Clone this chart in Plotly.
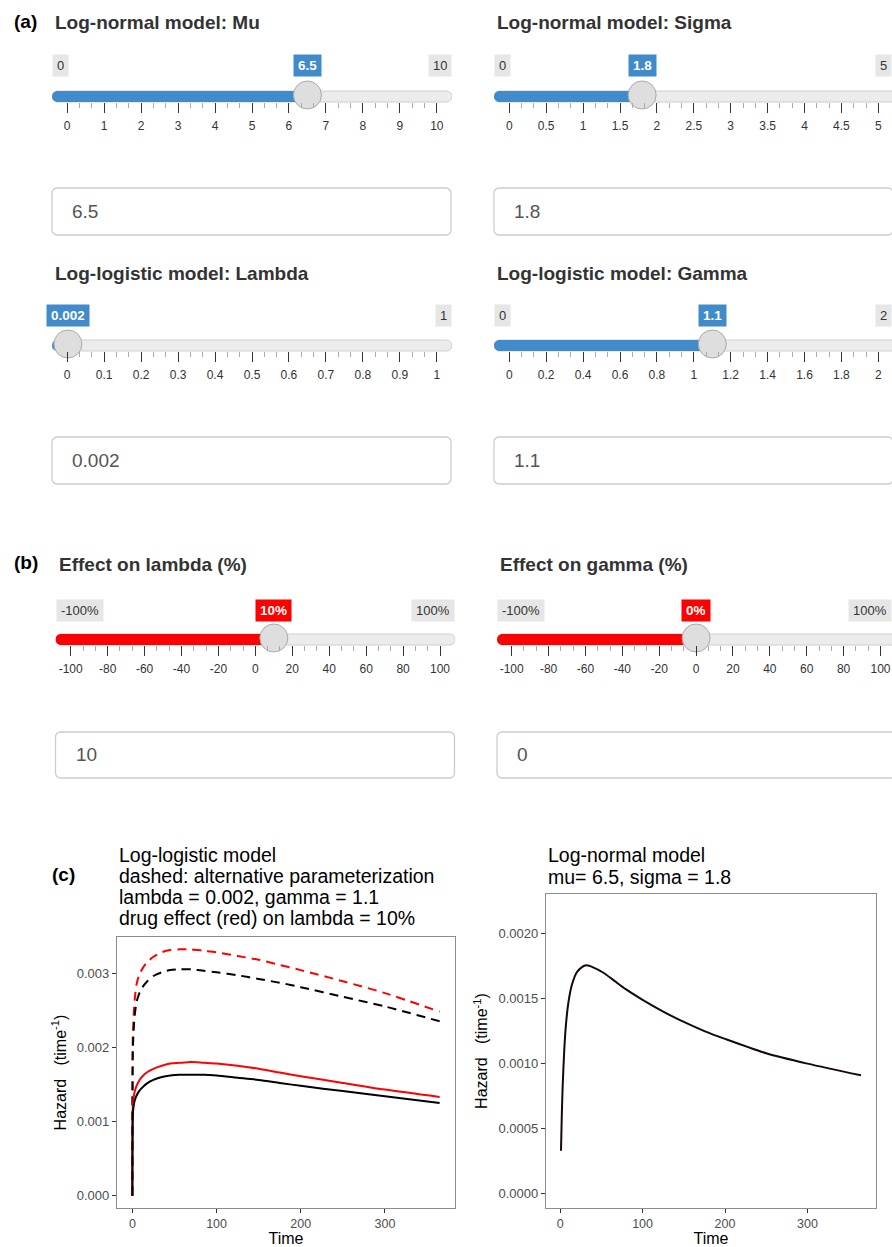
import plotly.graph_objects as go

W, H = 892, 1247

# ---------------- hazard curves ----------------
# log-logistic model (left panel): solid = standard, dashed = alternative parameterization
ll_time = [0, 0.5, 1, 2, 3, 5, 8, 12, 17, 25, 35, 45, 56, 70, 85, 100,
           125, 150, 175, 200, 250, 300, 365]
ll_hazard = [0, 0.00108, 0.00116, 0.00124, 0.00129, 0.00135, 0.00141, 0.00146,
             0.00151, 0.00156, 0.00160, 0.00162, 0.00163, 0.00163, 0.00163,
             0.00162, 0.00159, 0.00156, 0.00152, 0.00148, 0.00141, 0.00134, 0.00125]
ll_hazard_drug = [0, 0.00119, 0.00128, 0.00136, 0.00141, 0.00148, 0.00155, 0.00161,
                  0.00166, 0.00171, 0.00175, 0.00178, 0.00179, 0.00180, 0.00179,
                  0.00178, 0.00175, 0.00171, 0.00166, 0.00161, 0.00152, 0.00143, 0.00133]
ll_alt_hazard = [0, 0.00195, 0.00210, 0.00232, 0.00245, 0.00261, 0.00272, 0.00281,
                 0.00288, 0.00296, 0.00301, 0.00304, 0.00305, 0.00305, 0.00303,
                 0.00301, 0.00297, 0.00292, 0.00287, 0.00281, 0.00268, 0.00255, 0.00235]
ll_alt_hazard_drug = [0, 0.00210, 0.00228, 0.00252, 0.00267, 0.00285, 0.00297, 0.00306,
                      0.00314, 0.00322, 0.00328, 0.00331, 0.00332, 0.00332, 0.00330,
                      0.00328, 0.00323, 0.00318, 0.00311, 0.00304, 0.00289, 0.00273, 0.00248]

# log-normal model (right panel)
ln_time = [1, 2, 3, 5, 7, 10, 14, 20, 26, 32, 40, 52, 65, 80, 100, 125, 150,
           175, 200, 250, 300, 365]
ln_hazard = [0.00033, 0.00061, 0.00082, 0.00111, 0.00130, 0.00147, 0.00160, 0.00170,
             0.00174, 0.001755, 0.00174, 0.00170, 0.00164, 0.00157, 0.00149, 0.00140,
             0.00132, 0.00125, 0.00119, 0.00108, 0.00100, 0.00091]

# ---------------- slider inputs ----------------
slider_title = ["Log-normal model: Mu", "Log-normal model: Sigma",
                "Log-logistic model: Lambda", "Log-logistic model: Gamma",
                "Effect on lambda (%)", "Effect on gamma (%)"]
slider_min = [0, 0, 0, 0, -100, -100]
slider_max = [10, 5, 1, 2, 100, 100]
slider_value = [6.5, 1.8, 0.002, 1.1, 10, 0]
slider_unit = ["", "", "", "", "%", "%"]

mu_ticks = ["0", "1", "2", "3", "4", "5", "6", "7", "8", "9", "10"]
sigma_ticks = ["0", "0.5", "1", "1.5", "2", "2.5", "3", "3.5", "4", "4.5", "5"]
lambda_ticks = ["0", "0.1", "0.2", "0.3", "0.4", "0.5", "0.6", "0.7", "0.8", "0.9", "1"]
gamma_ticks = ["0", "0.2", "0.4", "0.6", "0.8", "1", "1.2", "1.4", "1.6", "1.8", "2"]
effect_ticks = ["-100", "-80", "-60", "-40", "-20", "0", "20", "40", "60", "80", "100"]
slider_ticks = [mu_ticks, sigma_ticks, lambda_ticks, gamma_ticks, effect_ticks, effect_ticks]

# ---------------- page geometry (pixels, y downward) ----------------
slider_geo = [
    dict(t0=67.2, t1=436.8, left=52.0, row=0),
    dict(t0=509.3, t1=878.3, left=494.0, row=0),
    dict(t0=67.2, t1=436.8, left=52.0, row=1),
    dict(t0=509.3, t1=878.3, left=494.0, row=1),
    dict(t0=70.7, t1=440.0, left=55.5, row=2),
    dict(t0=511.7, t1=880.5, left=497.0, row=2),
]
rows = [
    dict(title=22, label=66, top=91, bot=102, in_top=188, in_bot=235),
    dict(title=274, label=315, top=340, bot=351, in_top=437, in_bot=484),
    dict(title=565, label=610, top=634, bot=645, in_top=732, in_bot=778),
]
bar_colors = ["#428bca", "#428bca", "#428bca", "#428bca", "#ff0000", "#ff0000"]
FONT = "Liberation Sans, Arial, Helvetica, sans-serif"
K = 0.5523
PANEL_BOTTOM = 1208


def px(x):
    return x / W


def py(y):
    return 1 - y / H


def pill_path(x0, x1, rx, round_right=True):
    """Track path in (data x, domain y) units with rounded ends."""
    ry = 0.5
    p = f"M{x0 + rx},1 "
    if round_right:
        p += f"L{x1 - rx},1 C{x1 - rx + K * rx},1 {x1},{0.5 + K * ry} {x1},0.5 "
        p += f"C{x1},{0.5 - K * ry} {x1 - rx + K * rx},0 {x1 - rx},0 "
    else:
        p += f"L{x1},1 L{x1},0 "
    p += f"L{x0 + rx},0 C{x0 + rx - K * rx},0 {x0},{0.5 - K * ry} {x0},0.5 "
    p += f"C{x0},{0.5 + K * ry} {x0 + rx - K * rx},1 {x0 + rx},1 Z"
    return p


def rrect_paper(x0, y0, x1, y1, r):
    def P(x, y):
        return f"{px(x):.5f},{py(y):.5f}"
    k = K * r
    return (f"M{P(x0 + r, y0)} L{P(x1 - r, y0)} C{P(x1 - r + k, y0)} {P(x1, y0 + r - k)} {P(x1, y0 + r)} "
            f"L{P(x1, y1 - r)} C{P(x1, y1 - r + k)} {P(x1 - r + k, y1)} {P(x1 - r, y1)} "
            f"L{P(x0 + r, y1)} C{P(x0 + r - k, y1)} {P(x0, y1 - r + k)} {P(x0, y1 - r)} "
            f"L{P(x0, y0 + r)} C{P(x0, y0 + r - k)} {P(x0 + r - k, y0)} {P(x0 + r, y0)} Z")


fig = go.Figure()
axes = {}
shapes = []
annotations = []

# ---------------- sliders and numeric inputs ----------------
for i in range(6):
    g = slider_geo[i]
    r = rows[g["row"]]
    n = i + 3
    xa, ya = f"x{n}", f"y{n}"
    lo, hi, val = slider_min[i], slider_max[i], slider_value[i]
    upp = (hi - lo) / (g["t1"] - g["t0"])
    pad = g["t0"] - g["left"]
    right_full = g["t1"] + pad
    right = min(right_full, W)
    r0 = lo - pad * upp
    r1 = hi + (right - g["t1"]) * upp
    r1_full = hi + pad * upp
    track_h = r["bot"] - r["top"]

    tickvals = [float(t) for t in slider_ticks[i]]
    minor_vals = []
    for a, b in zip(tickvals[:-1], tickvals[1:]):
        minor_vals += [a + (b - a) / 3, a + 2 * (b - a) / 3]

    axes[f"xaxis{n}"] = dict(
        domain=[px(g["left"]), px(right)], range=[r0, r1], anchor=ya,
        tickmode="array", tickvals=tickvals, ticktext=slider_ticks[i],
        ticks="outside", ticklen=10, tickwidth=1.4, tickcolor="#333",
        minor=dict(tickmode="array", tickvals=minor_vals, ticks="outside",
                   ticklen=5, tickwidth=1.4, tickcolor="#aaaaaa", showgrid=False),
        showline=False, showgrid=False, zeroline=False, tickangle=0,
        tickfont=dict(size=12, color="#333", family=FONT), ticklabelstandoff=3,
        fixedrange=True)
    axes[f"yaxis{n}"] = dict(domain=[py(r["bot"]), py(r["top"])], range=[0, 1],
                             anchor=xa, visible=False, fixedrange=True)

    rx = (track_h / 2) * upp
    shapes.append(dict(type="path", xref=xa, yref=f"{ya} domain",
                       path=pill_path(r0, r1_full, rx, round_right=right_full <= W),
                       fillcolor="#ececec", line=dict(color="#cfcfcf", width=1), layer="below"))
    shapes.append(dict(type="path", xref=xa, yref=f"{ya} domain",
                       path=pill_path(r0, val, rx, round_right=False),
                       fillcolor=bar_colors[i], line=dict(width=0), layer="below"))

    fig.add_trace(go.Scatter(
        x=[val], y=[0.5 + 1.5 / track_h], xaxis=xa, yaxis=ya, mode="markers",
        marker=dict(size=28, color="#dedede", line=dict(color="#aaaaaa", width=1)),
        cliponaxis=False, hoverinfo="skip", showlegend=False))

    unit = slider_unit[i]
    annotations.append(dict(
        x=val, xref=xa, y=py(r["label"]), yref="paper", text=f"<b>{val:g}{unit}</b>",
        showarrow=False, xanchor="center", yanchor="middle", bgcolor=bar_colors[i],
        borderpad=4, height=13, font=dict(size=13.5, color="white", family=FONT)))
    frac = (val - lo) / (hi - lo)
    if frac > 0.08:
        annotations.append(dict(
            x=r0, xref=xa, y=py(r["label"]), yref="paper", text=f"{lo:g}{unit}",
            showarrow=False, xanchor="left", yanchor="middle", bgcolor="#e6e6e6",
            borderpad=4, height=13, font=dict(size=13, color="#333", family=FONT)))
    if frac < 0.92:
        annotations.append(dict(
            x=r1 if right_full > W else r1_full, xref=xa, y=py(r["label"]), yref="paper",
            text=f"{hi:g}{unit}", showarrow=False, xanchor="right", yanchor="middle",
            bgcolor="#e6e6e6", borderpad=4, height=13,
            font=dict(size=13, color="#333", family=FONT)))

    # slider caption
    annotations.append(dict(
        x=px(g["left"] + 1), xref="paper", y=py(r["title"]), yref="paper",
        text=f"<b>{slider_title[i]}</b>", showarrow=False, xanchor="left", yanchor="middle",
        font=dict(size=19, color="#333", family=FONT)))

    # numeric input box
    shapes.append(dict(type="path", xref="paper", yref="paper",
                       path=rrect_paper(g["left"], r["in_top"], g["left"] + 399, r["in_bot"], 5),
                       fillcolor="white", line=dict(color="#cccccc", width=1.3), layer="below"))
    annotations.append(dict(
        x=px(g["left"] + 18), xref="paper", y=py((r["in_top"] + r["in_bot"]) / 2), yref="paper",
        text=f"{val:g}", showarrow=False, xanchor="left", yanchor="middle",
        font=dict(size=19, color="#555", family=FONT)))

# panel letters
for txt, x, y in [("(a)", 12, 21), ("(b)", 12, 563), ("(c)", 50, 875)]:
    annotations.append(dict(x=px(x), xref="paper", y=py(y), yref="paper",
                            text=f"<b>{txt}</b>", showarrow=False, xanchor="left",
                            yanchor="middle", font=dict(size=19, color="black", family=FONT)))

# ---------------- hazard plots ----------------
dash = "9px,6px"
smooth = dict(shape="spline", smoothing=0.8)
fig.add_trace(go.Scatter(x=ll_time, y=ll_alt_hazard_drug, mode="lines",
                         line=dict(color="#ff0000", width=2, dash=dash, **smooth), xaxis="x", yaxis="y"))
fig.add_trace(go.Scatter(x=ll_time, y=ll_alt_hazard, mode="lines",
                         line=dict(color="black", width=2, dash=dash, **smooth), xaxis="x", yaxis="y"))
fig.add_trace(go.Scatter(x=ll_time, y=ll_hazard_drug, mode="lines",
                         line=dict(color="#ff0000", width=2, **smooth), xaxis="x", yaxis="y"))
fig.add_trace(go.Scatter(x=ll_time, y=ll_hazard, mode="lines",
                         line=dict(color="black", width=2, **smooth), xaxis="x", yaxis="y"))
fig.add_trace(go.Scatter(x=ln_time, y=ln_hazard, mode="lines",
                         line=dict(color="#140808", width=2, **smooth), xaxis="x2", yaxis="y2"))


def expand(lo, hi, f=0.05):
    s = hi - lo
    return [lo - f * s, hi + f * s]


ll_ymax = max(max(ll_hazard), max(ll_hazard_drug), max(ll_alt_hazard), max(ll_alt_hazard_drug))
ln_ylim = 1.25 * max(ln_hazard)

common_axis = dict(showline=True, mirror=True, linecolor="#8c8c8c", linewidth=1.2,
                   ticks="outside", ticklen=4, tickwidth=1, tickcolor="#333",
                   showgrid=False, zeroline=False, fixedrange=True,
                   tickfont=dict(size=13, color="#4d4d4d", family=FONT))
xtick_font = dict(size=12.5, color="#4d4d4d", family=FONT)
ytitle = "Hazard\u00a0\u00a0\u00a0(time<sup>-1</sup>)"

axes["xaxis"] = dict(common_axis, domain=[px(117), px(455)], anchor="y",
                     range=expand(min(ll_time), max(ll_time)), tickvals=[0, 100, 200, 300],
                     tickfont=xtick_font,
                     title=dict(text="Time", font=dict(size=16, color="black", family=FONT), standoff=4))
axes["yaxis"] = dict(common_axis, domain=[py(PANEL_BOTTOM), py(937)], anchor="x",
                     range=expand(0, ll_ymax), tickvals=[0, 0.001, 0.002, 0.003], tickformat=".3f",
                     title=dict(text=ytitle, font=dict(size=16, color="black", family=FONT), standoff=6))
axes["xaxis2"] = dict(common_axis, domain=[px(546), px(876)], anchor="y2",
                      range=expand(min(ln_time), max(ln_time)), tickvals=[0, 100, 200, 300],
                      tickfont=xtick_font,
                      title=dict(text="Time", font=dict(size=16, color="black", family=FONT), standoff=4))
axes["yaxis2"] = dict(common_axis, domain=[py(PANEL_BOTTOM), py(894)], anchor="x2",
                      range=expand(0, ln_ylim), tickvals=[0, 0.0005, 0.001, 0.0015, 0.002],
                      tickformat=".4f",
                      title=dict(text=ytitle, font=dict(size=16, color="black", family=FONT), standoff=6))

# plot titles, one annotation per line
left_title = ["Log-logistic model",
              "dashed: alternative parameterization",
              f"lambda = {slider_value[2]:g}, gamma = {slider_value[3]:g}",
              f"drug effect (red) on lambda = {slider_value[4]:g}%"]
for k, line in enumerate(left_title):
    annotations.append(dict(x=px(117), xref="paper", y=py(855 + 21 * k), yref="paper",
                            text=line, showarrow=False, xanchor="left", yanchor="middle",
                            font=dict(size=19.5, color="black", family=FONT)))
right_title = ["Log-normal model",
               f"mu= {slider_value[0]:g}, sigma = {slider_value[1]:g}"]
for k, line in enumerate(right_title):
    annotations.append(dict(x=px(546), xref="paper", y=py(855 + 21.5 * k), yref="paper",
                            text=line, showarrow=False, xanchor="left", yanchor="middle",
                            font=dict(size=19.5, color="black", family=FONT)))

fig.update_layout(
    width=W, height=H, margin=dict(l=0, r=0, t=0, b=0),
    paper_bgcolor="white", plot_bgcolor="white",
    showlegend=False, hovermode=False,
    font=dict(family=FONT, color="black"),
    shapes=shapes, annotations=annotations, **axes)

fig.write_html("out.html")
